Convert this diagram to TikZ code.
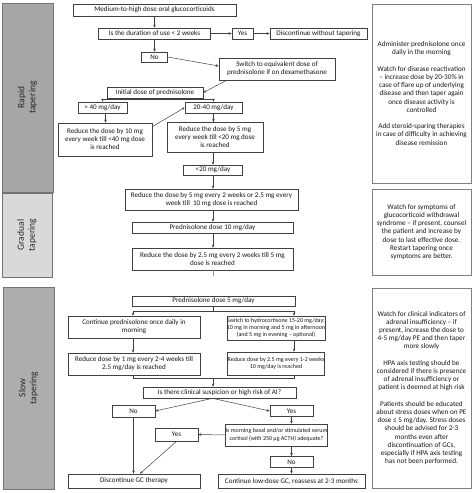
\documentclass[tikz,border=0pt]{standalone}
\usepackage{fontspec}
\setmainfont{Carlito}
\usetikzlibrary{arrows.meta}
\begin{document}
\begin{tikzpicture}[x=1pt,y=-1pt,
  fbox/.style={draw=black!75, line width=0.6pt, fill=white, inner sep=0pt, align=center, font=\fontsize{7.1}{8}\selectfont, text=black!90},
  sfbox/.style={fbox, font=\fontsize{6.0}{7.3}\selectfont},
  arr/.style={-{Stealth[length=3pt,width=2.6pt]}, line width=0.5pt, draw=black!75},
  ln/.style={line width=0.5pt, draw=black!75},
  sidebox/.style={draw=black!50, line width=1pt, fill=white, inner sep=0pt, align=center, font=\fontsize{7.2}{8.2}\selectfont, text=black!90},
  panel/.style={draw=black!55, line width=0.6pt, inner sep=0pt},
  ptext/.style={rotate=90, align=center, font=\fontsize{9.5}{11}\selectfont, text=black!85}
]
\useasboundingbox (0,0) rectangle (473,493);
% left panels
\node[panel, fill=black!35, minimum width=51pt, minimum height=189pt] (prapid) at (27.5,97.5) {};
\node[ptext] (trapid) at (prapid) {Rapid\\tapering};
\node[panel, fill=black!15, minimum width=50pt, minimum height=84pt] (pgrad) at (27,235) {};
\node[ptext] (tgrad) at (pgrad) {Gradual\\tapering};
\node[panel, fill=black!32, minimum width=51pt, minimum height=202pt] (pslow) at (28.5,388) {};
\node[ptext] (tslow) at (pslow) {Slow\\tapering};
% right boxes
\node[sidebox, minimum width=99pt, minimum height=179pt] (r1) at (421.5,93.5) {Administer prednisolone once\\daily in the morning\\[8.2pt]Watch for disease reactivation\\– increase dose by 20-30\% in\\case of flare up of underlying\\disease and then taper again\\once disease activity is\\controlled\\[8.2pt]Add steroid-sparing therapies\\in case of difficulty in achieving\\disease remission};
\node[sidebox, minimum width=99pt, minimum height=86pt] (r2) at (421.5,232) {Watch for symptoms of\\glucocorticoid withdrawal\\syndrome – if present, counsel\\the patient and increase by\\dose to last effective dose.\\Restart tapering once\\symptoms are better.};
\node[sidebox, minimum width=99pt, minimum height=200pt] (r3) at (421.5,388) {Watch for clinical indicators of\\adrenal insufficiency – if\\present, increase the dose to\\4-5 mg/day PE and then taper\\more slowly\\[8.2pt]HPA axis testing should be\\considered if there is presence\\of adrenal insufficiency or\\patient is deemed at high risk\\[8.2pt]Patients should be educated\\about stress doses when on PE\\dose ≤ 5 mg/day. Stress doses\\should be advised for 2-3\\months even after\\discontinuation of GCs,\\especially if HPA axis testing\\has not been performed.};
% flow nodes
\node[fbox, minimum width=163pt, minimum height=12pt] (med) at (154.5,10) {Medium-to-high dose oral glucocorticoids};
\node[fbox, minimum width=112pt, minimum height=11pt] (dur) at (154.5,33.5) {Is the duration of use < 2 weeks};
\node[fbox, minimum width=21pt, minimum height=11pt] (yes1) at (242.5,33.5) {Yes};
\node[fbox, minimum width=97pt, minimum height=11pt] (disc1) at (318.5,33.5) {Discontinue without tapering};
\node[fbox, minimum width=26pt, minimum height=10pt] (no1) at (154.5,57) {No};
\node[fbox, minimum width=116pt, minimum height=22pt] (switch) at (277,69) {Switch to equivalent dose of\\prednisolone if on dexamethasone};
\node[fbox, minimum width=96pt, minimum height=11pt] (init) at (155,92.5) {Initial dose of prednisolone};
\node[fbox, minimum width=49pt, minimum height=11pt] (gt40) at (102.5,107.5) {> 40 mg/day};
\node[fbox, minimum width=57pt, minimum height=11pt] (r2040) at (213.5,107.5) {20-40 mg/day};
\node[fbox, minimum width=94pt, minimum height=33pt] (red10) at (105,139.5) {Reduce the dose by 10 mg\\every week till <40 mg dose\\is reached};
\node[fbox, minimum width=96pt, minimum height=30pt] (red5) at (215,137.5) {Reduce the dose by 5 mg\\every week till <20 mg dose\\is reached};
\node[fbox, minimum width=59pt, minimum height=10pt] (lt20) at (213,170) {<20 mg/day};
\node[fbox, minimum width=173pt, minimum height=21pt] (red5b) at (211.5,199.5) {Reduce the dose by 5 mg every 2 weeks or 2.5 mg every\\week till\ \ 10 mg dose is reached};
\node[fbox, minimum width=161pt, minimum height=11pt] (p10) at (212.5,227.5) {Prednisolone dose 10 mg/day};
\node[fbox, minimum width=161pt, minimum height=22pt] (red25) at (212.5,259) {Reduce the dose by 2.5 mg every 2 weeks till 5 mg\\dose is reached};
\coordinate (stub) at (213,276);
\node[fbox, minimum width=163pt, minimum height=10pt] (p5) at (213.5,301) {Prednisolone dose 5 mg/day};
\node[fbox, minimum width=132pt, minimum height=22pt] (cont) at (134,327) {Continue prednisolone once daily in\\morning};
\node[sfbox, minimum width=95pt, minimum height=24pt] (swhc) at (276,328) {Switch to hydrocortisone 15-20 mg/day:\\10 mg in morning and 5 mg in afternoon\\(and 5 mg in evening – optional)};
\node[fbox, minimum width=132pt, minimum height=22pt] (red1) at (134,364) {Reduce dose by 1 mg every 2-4 weeks till\\2.5 mg/day is reached};
\node[sfbox, minimum width=95pt, minimum height=23pt] (red25b) at (276,363.5) {Reduce dose by 2.5 mg every 1-2 weeks\\10 mg/day is reached};
\coordinate (b3) at (213,378);
\node[fbox, minimum width=153pt, minimum height=11pt] (isthere) at (219.5,392.5) {Is there clinical suspicion or high risk of AI?};
\node[fbox, minimum width=43pt, minimum height=12pt] (no2) at (133.5,411) {No};
\node[fbox, minimum width=43pt, minimum height=11pt] (yes2) at (291.5,411) {Yes};
\node[fbox, minimum width=43pt, minimum height=13pt] (yes3) at (176.5,434.5) {Yes};
\node[sfbox, minimum width=97pt, minimum height=22pt] (morning) at (276.5,435) {Is morning basal and/or stimulated serum\\cortisol (with 250 µg ACTH) adequate?};
\node[fbox, minimum width=43pt, minimum height=11pt] (no3) at (291.5,462) {No};
\node[fbox, minimum width=132pt, minimum height=14pt] (discgc) at (134,481) {Discontinue GC therapy};
\node[fbox, minimum width=147pt, minimum height=14pt] (contlow) at (291.5,481) {Continue low-dose GC, reassess at 2-3 months};
% connectors
\draw[arr] (med) -- (dur);
\draw[arr] (dur) -- (yes1);
\draw[arr] (yes1) -- (disc1);
\draw[arr] (dur) -- (no1);
\draw[arr] (no1.east) -- ([yshift=3pt]switch.west);
\draw[arr] ([xshift=8pt]switch.south west) -- (init.east);
\coordinate (b1) at (155,99.5);
\draw[ln] (init.south) -- (b1);
\draw[arr] (b1) -| (gt40.north);
\draw[arr] (b1) -| (r2040.north);
\draw[arr] ([xshift=3pt]gt40.south) -- ([xshift=3pt]gt40.south |- red10.north);
\draw[arr] ([yshift=-4pt]red10.north east) -- (r2040.west);
\draw[arr] (r2040.south) -- (r2040.south |- red5.north);
\draw[arr] (lt20.north |- red5.south) -- (lt20.north);
\draw[arr] (lt20.south) -- (lt20.south |- red5b.north);
\draw[arr] (lt20.south |- red5b.south) -- (lt20.south |- p10.north);
\draw[arr] (lt20.south |- p10.south) -- (lt20.south |- red25.north);
\draw[ln, draw=black!45] (lt20.south |- red25.south) -- (stub);
\coordinate (b2) at (213,311);
\draw[ln] (b2 |- p5.south) -- (b2);
\draw[arr] (b2) -| ([xshift=-1pt]cont.north);
\draw[arr] (b2) -| ([xshift=18pt]swhc.north);
\draw[arr] ([xshift=-1pt]cont.south) -- ([xshift=-1pt]red1.north);
\draw[arr] ([xshift=18pt]swhc.south) -- ([xshift=18pt]red25b.north);
\draw[ln] ([xshift=-1pt]red1.south) |- (b3);
\draw[ln] ([xshift=18pt]red25b.south) |- (b3);
\draw[arr] (b3) -- (b3 |- isthere.north);
\draw[arr] ([xshift=-7pt]isthere.south) -- (no2.east);
\draw[arr] ([xshift=-7pt]isthere.south) -- (yes2.west);
\draw[arr] (yes2.south) -- (yes2.south |- morning.north);
\draw[arr] (morning.west) -- (yes3.east);
\draw[arr] (morning.south -| no3.north) -- (no3.north);
\draw[arr] (no3.south) -- (no3.south |- contlow.north);
\draw[arr] (no2.south) -- (no2.south |- discgc.north);
\draw[arr] (yes3.south) -- ([xshift=6pt]discgc.north);
\end{tikzpicture}
\end{document}
